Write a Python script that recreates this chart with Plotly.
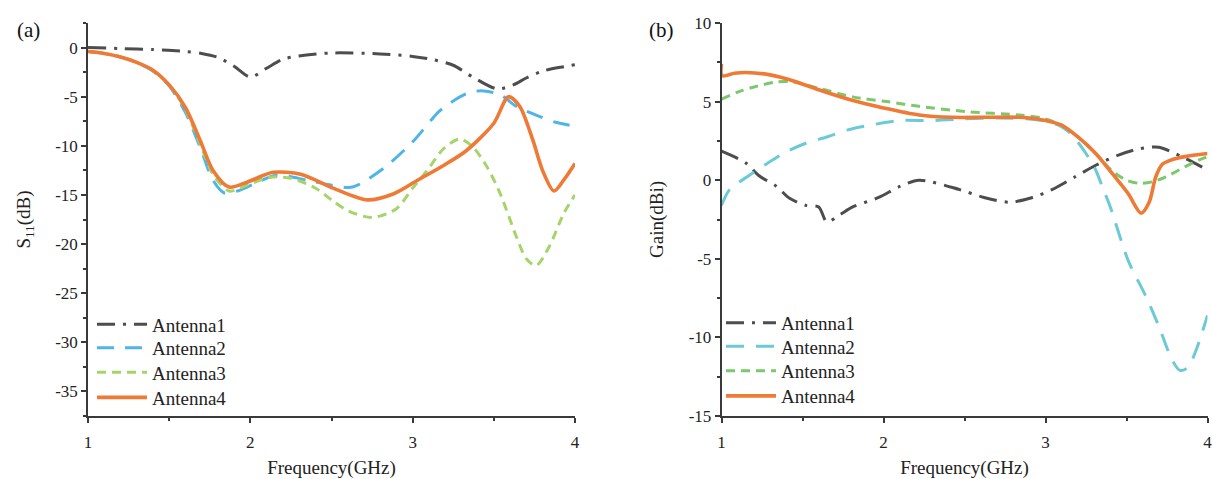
import plotly.graph_objects as go

# ---------------- data ----------------
# (a) S11 (dB)
a1_s11_f = [1.0, 1.2, 1.4, 1.6, 1.7, 1.8, 1.9, 2.0, 2.1, 2.2, 2.3, 2.5, 2.8, 3.0, 3.13, 3.25, 3.37, 3.52, 3.62, 3.7, 3.8, 3.93, 4.0]
a1_s11 = [0.0, -0.1, -0.2, -0.4, -0.6, -1.0, -1.9, -3.0, -2.1, -1.2, -0.85, -0.55, -0.65, -0.9, -1.25, -1.8, -3.0, -4.2, -3.8, -3.1, -2.4, -1.95, -1.75]

a2_s11_f = [1.0, 1.1, 1.2, 1.3, 1.4, 1.5, 1.6, 1.69, 1.77, 1.84, 1.92, 2.02, 2.16, 2.35, 2.5, 2.63, 2.82, 3.0, 3.17, 3.33, 3.42, 3.54, 3.64, 3.78, 3.88, 4.0]
a2_s11 = [-0.4, -0.6, -0.95, -1.5, -2.4, -3.9, -6.6, -10.1, -13.5, -14.8, -14.6, -13.9, -13.0, -13.5, -14.0, -14.2, -12.3, -9.6, -6.4, -4.7, -4.4, -4.8, -6.0, -7.0, -7.6, -8.0]

a3_s11_f = [1.0, 1.1, 1.2, 1.3, 1.4, 1.5, 1.6, 1.69, 1.77, 1.87, 1.98, 2.12, 2.25, 2.4, 2.5, 2.6, 2.75, 2.9, 3.0, 3.09, 3.19, 3.29, 3.37, 3.46, 3.54, 3.64, 3.70, 3.76, 3.84, 3.93, 4.0]
a3_s11 = [-0.4, -0.6, -0.95, -1.5, -2.3, -3.8, -6.3, -9.8, -12.9, -14.6, -14.0, -13.2, -13.3, -14.3, -15.5, -16.6, -17.3, -16.4, -14.3, -12.5, -10.3, -9.3, -10.1, -12.2, -14.9, -19.3, -21.5, -22.2, -20.3, -16.9, -15.0]

a4_s11_f = [1.0, 1.1, 1.2, 1.3, 1.4, 1.5, 1.6, 1.69, 1.77, 1.87, 1.98, 2.14, 2.31, 2.51, 2.72, 2.88, 3.03, 3.19, 3.33, 3.5, 3.59, 3.66, 3.74, 3.8, 3.87, 3.93, 4.0]
a4_s11 = [-0.4, -0.6, -0.95, -1.5, -2.3, -3.8, -6.1, -9.4, -12.5, -14.2, -13.7, -12.7, -12.9, -14.3, -15.5, -14.9, -13.5, -12.0, -10.5, -7.7, -5.0, -6.0, -9.4, -12.5, -14.6, -13.5, -11.8]

# (b) Gain (dBi)
a1_g_f = [1.0, 1.15, 1.23, 1.34, 1.42, 1.52, 1.6, 1.65, 1.73, 1.81, 1.97, 2.1, 2.22, 2.47, 2.62, 2.78, 2.92, 3.04, 3.18, 3.31, 3.45, 3.58, 3.7, 3.84, 4.0]
a1_g = [1.85, 1.1, 0.3, -0.4, -1.15, -1.6, -1.7, -2.65, -2.2, -1.7, -1.1, -0.4, 0.0, -0.6, -1.1, -1.4, -1.1, -0.6, 0.2, 0.95, 1.6, 2.0, 2.1, 1.5, 0.65]

a2_g_f = [1.0, 1.05, 1.17, 1.28, 1.4, 1.52, 1.65, 1.78, 1.89, 2.0, 2.1, 2.32, 2.5, 2.7, 2.9, 3.0, 3.08, 3.14, 3.19, 3.25, 3.31, 3.35, 3.4, 3.51, 3.62, 3.70, 3.78, 3.83, 3.88, 3.93, 4.0]
a2_g = [-1.6, -0.6, 0.3, 1.05, 1.8, 2.35, 2.75, 3.2, 3.45, 3.65, 3.8, 3.8, 3.9, 3.95, 3.9, 3.75, 3.5, 3.1, 2.55, 1.7, 0.65, -0.4, -1.7, -5.1, -7.4, -9.3, -11.4, -12.1, -11.9, -10.8, -8.6]

a3_g_f = [1.0, 1.1, 1.19, 1.34, 1.44, 1.6, 1.81, 2.02, 2.22, 2.53, 2.84, 2.98, 3.1, 3.2, 3.31, 3.41, 3.5, 3.58, 3.66, 3.74, 3.86, 3.95, 4.0]
a3_g = [5.15, 5.6, 5.9, 6.25, 6.25, 5.85, 5.3, 5.0, 4.7, 4.35, 4.15, 3.95, 3.5, 2.75, 1.7, 0.6, 0.0, -0.2, -0.1, 0.2, 0.85, 1.3, 1.5]

a4_g_f = [1.0, 1.003, 1.08, 1.15, 1.3, 1.45, 1.6, 1.8, 2.0, 2.22, 2.42, 2.63, 2.84, 3.0, 3.1, 3.2, 3.31, 3.41, 3.51, 3.59, 3.64, 3.68, 3.72, 3.78, 3.86, 4.0]
a4_g = [7.4, 6.65, 6.8, 6.85, 6.7, 6.3, 5.75, 5.1, 4.6, 4.15, 4.0, 4.0, 4.0, 3.8, 3.5, 2.75, 1.7, 0.45, -0.85, -2.1, -1.4, 0.2, 1.0, 1.3, 1.5, 1.7]

names = ["Antenna1", "Antenna2", "Antenna3", "Antenna4"]

x_ticks = [1, 2, 3, 4]
x_minor = [1.5, 2.5, 3.5]
s11_ticks = [0, -5, -10, -15, -20, -25, -30, -35]
s11_minor = [2.5, -2.5, -7.5, -12.5, -17.5, -22.5, -27.5, -32.5, -37.5]
gain_ticks = [10, 5, 0, -5, -10, -15]
gain_minor = [7.5, 2.5, -2.5, -7.5, -12.5]

# ---------------- styling ----------------
FONT = "Liberation Serif"
AX = "#3a3a3a"
TXT = "#222222"
W, H = 1212, 479

left_styles = [
    dict(color="#4d4d4d", width=3, dash="18px,8px,3px,8px"),
    dict(color="#4fb4e8", width=3, dash="17px,11px"),
    dict(color="#a6d46c", width=3, dash="9px,6px"),
    dict(color="#ee7a35", width=3.6, dash="solid"),
]
right_styles = [
    dict(color="#4d4d4d", width=3, dash="18px,8px,3px,8px"),
    dict(color="#6ccad6", width=3, dash="18px,12px"),
    dict(color="#7cc86c", width=3, dash="9px,6px"),
    dict(color="#ee7a35", width=3.6, dash="solid"),
]

def fx(px):
    return px / W

def fy(py):
    return 1 - py / H

fig = go.Figure()

left_data = [(a1_s11_f, a1_s11), (a2_s11_f, a2_s11), (a3_s11_f, a3_s11), (a4_s11_f, a4_s11)]
right_data = [(a1_g_f, a1_g), (a2_g_f, a2_g), (a3_g_f, a3_g), (a4_g_f, a4_g)]

legend_rows_py = [324.5, 348.0, 372.5, 397.5]
legend_layouts = {}

for i, (name, (xs, ys), st) in enumerate(zip(names, left_data, left_styles)):
    lg = "legend" if i == 0 else f"legend{i + 1}"
    fig.add_trace(go.Scatter(x=xs, y=ys, name=name, mode="lines", showlegend=True,
                             line=dict(shape="spline", smoothing=0.8, **st),
                             xaxis="x", yaxis="y", legend=lg))
    legend_layouts[lg] = dict(x=fx(92), y=fy(legend_rows_py[i]), xanchor="left", yanchor="middle",
                              bgcolor="rgba(0,0,0,0)", borderwidth=0, itemwidth=50,
                              font=dict(family=FONT, size=19, color=TXT))
for i, (name, (xs, ys), st) in enumerate(zip(names, right_data, right_styles)):
    lg = f"legend{i + 5}"
    fig.add_trace(go.Scatter(x=xs, y=ys, name=name, mode="lines", showlegend=True,
                             line=dict(shape="spline", smoothing=0.8, **st),
                             xaxis="x2", yaxis="y2", legend=lg))
    legend_layouts[lg] = dict(x=fx(721), y=fy(legend_rows_py[i] - 1.5), xanchor="left", yanchor="middle",
                              bgcolor="rgba(0,0,0,0)", borderwidth=0, itemwidth=50,
                              font=dict(family=FONT, size=19, color=TXT))

common_x = dict(
    range=[1, 4], tickmode="array", tickvals=x_ticks, ticktext=[str(v) for v in x_ticks],
    ticks="outside", ticklen=5, tickwidth=1.5, tickcolor=AX,
    showline=True, linecolor=AX, linewidth=1.5, showgrid=False, zeroline=False,
    minor=dict(tickmode="array", tickvals=x_minor, ticks="outside", ticklen=3, tickwidth=1.5, tickcolor=AX),
    tickfont=dict(family=FONT, size=17, color=TXT),
    title=dict(text="Frequency(GHz)", font=dict(family=FONT, size=19, color=TXT), standoff=10),
    ticklabelstandoff=5, ticklabeloverflow="allow", automargin=False,
)

common_y = dict(
    ticks="outside", ticklen=5, tickwidth=1.5, tickcolor=AX,
    showline=True, linecolor=AX, linewidth=1.5, showgrid=False, zeroline=False,
    tickfont=dict(family=FONT, size=17, color=TXT),
    ticklabeloverflow="allow", automargin=False,
)

fig.update_layout(
    width=W, height=H,
    showlegend=True,
    margin=dict(l=0, r=0, t=0, b=0),
    paper_bgcolor="white", plot_bgcolor="white",
    xaxis=dict(domain=[fx(88), fx(575)], anchor="y", **common_x),
    xaxis2=dict(domain=[fx(721.5), fx(1207.5)], anchor="y2", **common_x),
    yaxis=dict(
        domain=[fy(416), fy(23)], anchor="x", range=[-37.5, 2.5],
        tickmode="array", tickvals=s11_ticks, ticktext=[str(v) for v in s11_ticks],
        minor=dict(tickmode="array", tickvals=s11_minor, ticks="outside", ticklen=3, tickwidth=1.5, tickcolor=AX),
        title=dict(text="S<sub>11</sub>(dB)", font=dict(family=FONT, size=19, color=TXT), standoff=20),
        **common_y,
    ),
    yaxis2=dict(
        domain=[fy(416), fy(23)], anchor="x2", range=[-15, 10],
        tickmode="array", tickvals=gain_ticks, ticktext=[str(v) for v in gain_ticks],
        minor=dict(tickmode="array", tickvals=gain_minor, ticks="outside", ticklen=3, tickwidth=1.5, tickcolor=AX),
        title=dict(text="Gain(dBi)", font=dict(family=FONT, size=19, color=TXT), standoff=20),
        **common_y,
    ),
    annotations=[
        dict(text="(a)", x=fx(28.5), y=fy(30), xref="paper", yref="paper", showarrow=False,
             xanchor="center", yanchor="middle", font=dict(family=FONT, size=21, color="#111")),
        dict(text="(b)", x=fx(661), y=fy(30), xref="paper", yref="paper", showarrow=False,
             xanchor="center", yanchor="middle", font=dict(family=FONT, size=21, color="#111")),
    ],
)
fig.update_layout(**legend_layouts)

fig.write_html("out.html")
